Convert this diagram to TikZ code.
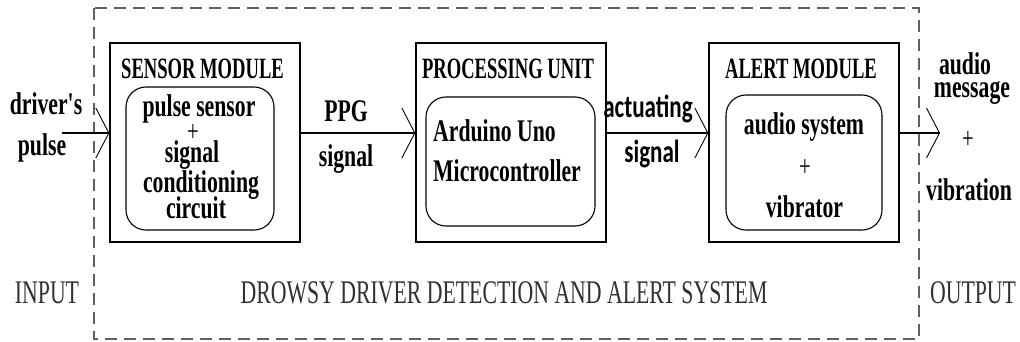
\documentclass[tikz,border=0pt]{standalone}
\usepackage{fontspec}
\usetikzlibrary{arrows.meta}
\newfontfamily\titlefont[FakeStretch=0.63]{Liberation Serif}
\newfontfamily\labelfont[FakeStretch=0.69]{Liberation Serif}
\newfontfamily\plainfont[FakeStretch=0.66]{Liberation Serif}
\newfontfamily\sanslabel[FakeStretch=0.72]{Carlito}
\definecolor{dashgray}{HTML}{606060}
\definecolor{captext}{HTML}{303030}
\tikzset{
  modbox/.style={draw, line width=1.3pt, minimum width=190pt, minimum height=199pt, inner sep=0pt},
  inbox/.style={draw, rounded corners=20pt, line width=1.1pt, inner sep=0pt},
  ttl/.style={anchor=base, inner sep=0pt, font=\titlefont\bfseries\fontsize{29.5}{30}\selectfont},
  lbl/.style={anchor=base, inner sep=0pt, font=\labelfont\bfseries\fontsize{31.5}{32}\selectfont},
  slbl/.style={anchor=base, inner sep=0pt, font=\sanslabel\bfseries\fontsize{32}{34}\selectfont},
  captxt/.style={anchor=base, inner sep=0pt, text=captext, font=\plainfont\fontsize{33}{34}\selectfont},
  plus/.style={inner sep=0pt, font=\labelfont\fontsize{30}{30}\selectfont},
  flow/.style={line width=1.3pt, -{Straight Barb[length=13pt,width=50pt,line width=0.9pt]}},
  frame/.style={draw=dashgray, line width=1.2pt, dash pattern=on 12pt off 7pt}
}
\begin{document}
\begin{tikzpicture}[x=1pt,y=-1pt]
\useasboundingbox (0,0) rectangle (1020,342);
% system frame
\draw[frame] (94,8) rectangle (919,339);
% module boxes
\node[modbox] (sensor) at (205,142.5) {};
\node[modbox] (proc) at (511,142.5) {};
\node[modbox] (alert) at (804,142.5) {};
% inner rounded boxes
\node[inbox, minimum width=148pt, minimum height=143pt] (sensorin) at (200,158.5) {};
\node[inbox, minimum width=169pt, minimum height=129pt] (procin) at (510.5,161.5) {};
\node[inbox, minimum width=156pt, minimum height=135pt] (alertin) at (804,162.5) {};
% titles
\node[ttl] (sensorttl) at (202.5,79) {SENSOR MODULE};
\node[ttl] (procttl) at (508,79) {PROCESSING UNIT};
\node[ttl] (alertttl) at (801,79) {ALERT MODULE};
% sensor contents
\node[lbl] (s1) at (199,117) {pulse sensor};
\node[plus] (s2) at (193,133) {+};
\node[lbl] (s3) at (192,163) {signal};
\node[lbl] (s4) at (201,193) {conditioning};
\node[lbl] (s5) at (196,218) {circuit};
% processing contents
\node[lbl, anchor=base west] (p1) at (433,142) {Arduino Uno};
\node[lbl, anchor=base west] (p2) at (433,182) {Microcontroller};
% alert contents
\node[lbl] (a1) at (804,135) {audio system};
\node[plus] (a2) at (805,168) {+};
\node[lbl] (a3) at (804.5,217) {vibrator};
% connectors
\coordinate (inp) at (62,133);
\coordinate (outp) at (940,133);
\draw[flow] (inp) -- (sensor.west |- inp);
\draw[flow] (sensor.east |- inp) -- (proc.west |- inp);
\draw[flow] (proc.east |- inp) -- (alert.west |- inp);
\draw[flow] (alert.east |- outp) -- (outp);
% connector labels
\node[lbl] (in1) at (46,115) {driver's};
\node[lbl] (in2) at (42,156) {pulse};
\node[lbl] (ppg1) at (346,122) {PPG};
\node[lbl] (ppg2) at (346,166) {signal};
\node[slbl] (act1) at (648,118) {actuating};
\node[slbl] (act2) at (652,163) {signal};
\node[lbl] (o1) at (965,75) {audio};
\node[lbl] (o2) at (972,98) {message};
\node[plus] (o3) at (968,140) {+};
\node[lbl] (o4) at (969,200) {vibration};
% captions
\node[captxt] (capin) at (47,303) {INPUT};
\node[captxt] (capsys) at (504,303) {DROWSY DRIVER DETECTION AND ALERT SYSTEM};
\node[captxt] (capout) at (973,303) {OUTPUT};
\end{tikzpicture}
\end{document}
